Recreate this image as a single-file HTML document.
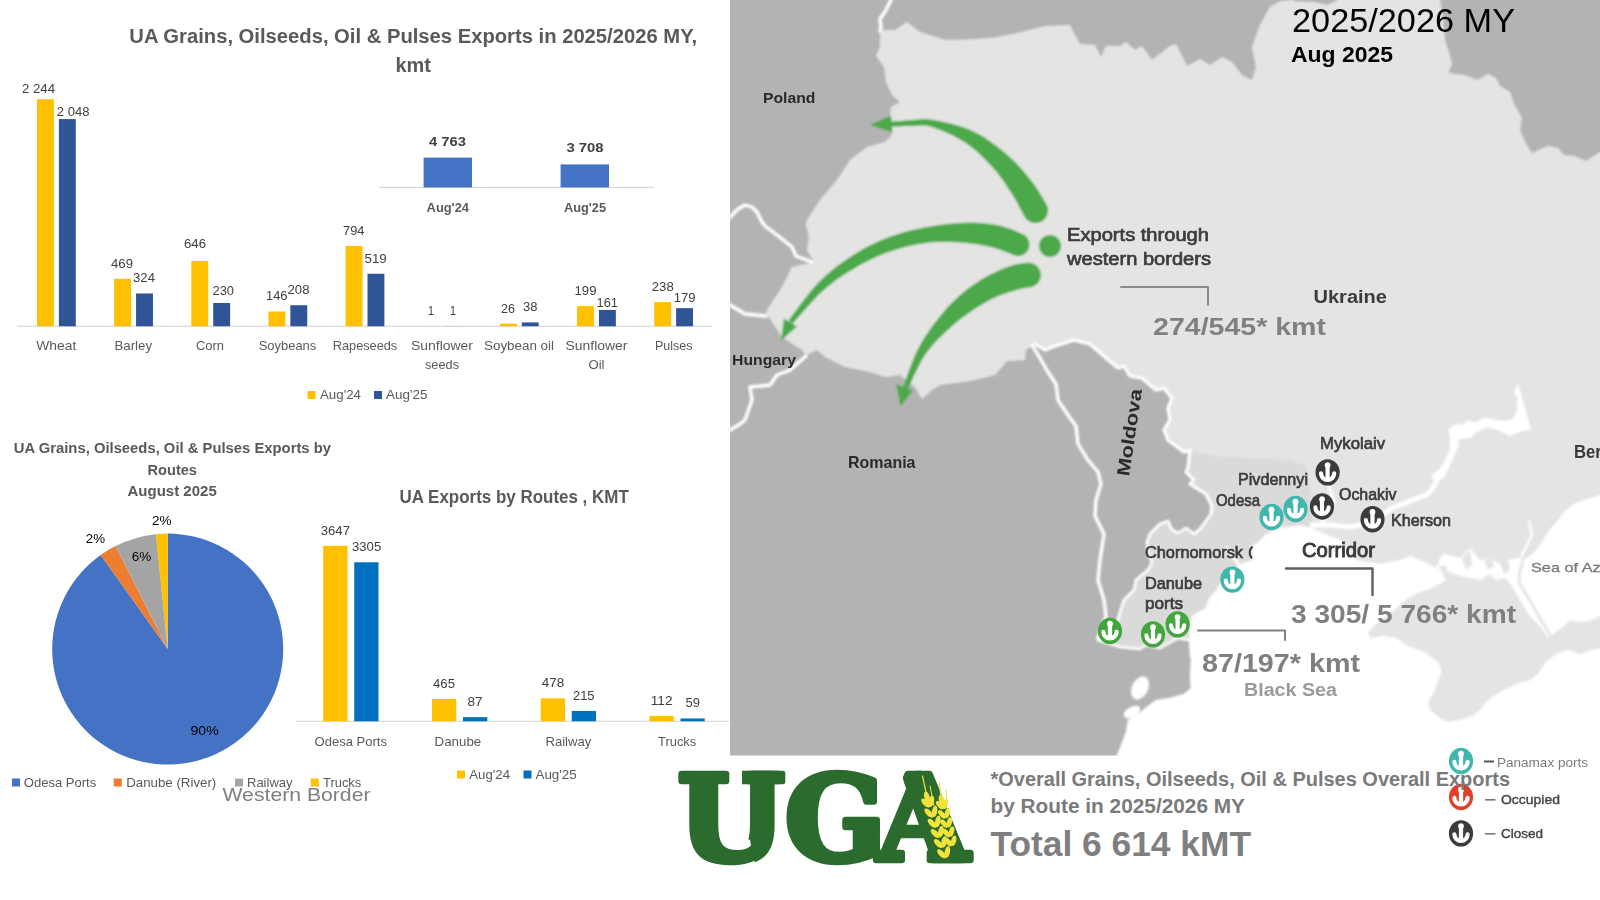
<!DOCTYPE html>
<html lang="en">
<head>
<meta charset="utf-8">
<title>UA Grains, Oilseeds, Oil &amp; Pulses Exports 2025/2026 MY</title>
<style>
html,body{margin:0;padding:0;background:#fff;}
body{width:1600px;height:900px;overflow:hidden;font-family:"Liberation Sans", sans-serif;}
svg{display:block;font-family:"Liberation Sans", sans-serif;}
</style>
</head>
<body>
<svg width="1600" height="900" viewBox="0 0 1600 900">
<defs>
<g id="anchor">
<ellipse rx="12.1" ry="13.2"/>
<path d="M-6.6,0.9 A6.6,6.6 0 0 0 6.6,0.9" fill="none" stroke="#fff" stroke-width="4.2" stroke-linecap="round"/>
<rect x="-2.1" y="-7.4" width="4.2" height="15" fill="#fff"/>
<circle cx="0" cy="-7.3" r="2.9" fill="#fff"/>
</g>
<filter id="mapblur" x="-2%" y="-2%" width="104%" height="104%"><feGaussianBlur stdDeviation="0.9"/></filter>
<filter id="soft" x="-5%" y="-5%" width="110%" height="110%"><feGaussianBlur stdDeviation="0.45"/></filter>
</defs>
<clipPath id="mapclip"><rect x="730" y="0" width="870" height="755.5"/></clipPath>
<g id="map" clip-path="url(#mapclip)" filter="url(#mapblur)">
<rect x="715.00" y="-15.00" width="900.00" height="785.00" fill="#e4e4e3"/>
<polygon points="1190,450 1215,456 1250,458 1290,460 1306,466 1310,490 1314,530 1300,530 1280,532 1266,538 1258,546 1256,562 1240,568 1222,588 1212,602 1200,616 1194,630 1192,644 1178,642 1160,650 1146,648 1140,651 1120,649 1098,642 1098,640 1108,630 1118,620 1120,612 1124,600 1134,590 1136,580 1148,570 1152,562 1148,552 1147,542 1150,534 1160,524 1168,521 1172,530 1178,533 1186,528 1194,534 1200,529 1211,514 1212,506 1206,494 1190,484 1194,480 1186,472 1188,468 1190,450" fill="#dadad9" />
<polygon points="715,-15 1292,-15 1292,0 1280,1 1270,7 1260,25 1252,47 1256,67 1252,80 1242,75 1232,62 1222,57 1210,65 1200,59 1187,66 1176,44 1170,46 1152,60 1142,46 1135,50 1126,42 1120,46 1106,46 1101,57 1095,45 1080,44 1075,35 1070,25 1045,26 1020,32.5 995,37.5 970,39.5 945,40 920,32 907,22 895,30 880,30 880,47 876,56 884,67 886,82 892,95 900,102 891,107 890,116 892,135 885,142 867,147 850,160 837,180 820,200 807,220 806,225 809,237 807,250 814,262 792,267 782,287 767,310 766,313 782,337 802,350 806,355 817,350 825,357 845,367 870,372 885,377 900,375 915,387 922,399 932,390 940,385 970,381 995,375 1007,361 1025,360 1026,350 1035,344 1045,350 1052,347 1074,340 1090,344 1106,358 1118,368 1124,366 1130,376 1142,378 1156,390 1164,388 1172,398 1168,408 1170,420 1164,430 1168,440 1184,452 1190,450 1188,468 1186,472 1194,480 1190,484 1206,494 1212,506 1211,514 1200,529 1194,534 1186,528 1178,533 1172,530 1168,521 1160,524 1150,534 1147,542 1148,552 1152,562 1148,570 1136,580 1134,590 1124,600 1120,612 1118,620 1108,630 1098,640 1120,647 1140,649 1146,645 1160,648 1178,638 1189,640 1190,655 1191,660 1190,680 1191,688 1184,694 1170,698 1156,700 1148,706 1138,714 1128,720 1126,732 1120,748 1117,755.5 1115,770 715,770" fill="#b3b3b3" />
<polygon points="1292,-15 1292,0 1296,1.5 1315,2 1327,5 1338,0 1338,-15" fill="#b3b3b3" />
<polygon points="1440,-15 1440,0 1443,20 1445,40 1449,52 1452,64 1448,73 1464,75 1478,80 1488,74 1496,78 1500,86 1510,92 1514,104 1522,118 1520,130 1526,144 1532,153 1548,146 1558,148 1564,155 1574,156 1586,161 1600,152 1615,150 1615,-15" fill="#b3b3b3" />
<polygon points="1115,770 1117,755.5 1120,748 1126,732 1128,720 1138,714 1148,706 1156,700 1170,698 1184,694 1191,688 1190,680 1191,660 1190,655 1189,640 1190,628 1192,616 1198,612 1206,608 1208,600 1216,590 1220,584 1240,564 1252,560 1252,546 1258,542 1266,534 1280,528 1300,525 1312,528 1325,534 1340,540 1348,550 1356,560 1380,564 1400,560 1410,556 1420,560 1436,568 1440,558 1444,554 1460,558 1470,548 1480,560 1490,558 1500,564 1506,560 1520,558 1522,560 1530,556 1538,548 1548,532 1558,520 1564,512 1574,504 1584,500 1600,495 1615,494 1615,770" fill="#ffffff" />
<ellipse cx="1140" cy="688" rx="8" ry="12" fill="#fff" transform="rotate(25 1140 688)"/>
<ellipse cx="1132" cy="712" rx="9" ry="5" fill="#fff" transform="rotate(-30 1132 712)"/>
<polygon points="1446,580 1438,566 1446,566 1448,572 1460,576 1470,578 1480,580 1490,574 1496,580 1506,578 1512,586 1520,600 1530,616 1540,626 1548,638 1556,632 1564,626 1570,620 1580,622 1592,620 1600,616 1615,614 1615,646 1600,648 1592,650 1580,654 1568,650 1556,654 1546,662 1538,674 1530,680 1516,684 1500,692 1488,700 1480,710 1472,716 1460,720 1448,722 1440,718 1430,710 1428,702 1434,692 1438,680 1442,672 1438,662 1424,652 1408,646 1396,638 1384,636 1370,638 1368,632 1376,624 1392,612 1408,598 1420,592 1432,588" fill="#e4e4e3" />
<polyline points="1523,561 1519.5,572 1519,582 1551,637" fill="none" stroke="#e4e4e3" stroke-width="3" stroke-linejoin="round" stroke-linecap="round" />
<polygon points="1462,558 1466,570 1472,566 1470,550" fill="#e4e4e3" />
<polygon points="1484,560 1488,570 1494,566 1492,558" fill="#e4e4e3" />
<polygon points="1500,562 1504,574 1510,570 1508,560" fill="#e4e4e3" />
<polyline points="1521,557 1532,535 1529,521" fill="none" stroke="#fff" stroke-width="2.4" stroke-linejoin="round" stroke-linecap="round" />
<polygon points="1518,384 1531,429 1519,432 1510,436 1500,431 1489,427.5 1477.5,431 1471,437.5 1457.5,440 1459,446 1444,477.5 1436,482 1431,476 1441,467.5 1450,450 1450,437.5 1448,429 1456,424 1462.5,425 1468,420 1475,422.5 1485,417.5 1495,420 1505,421 1512.5,419 1517,411 1517.5,397.5 1514,392.5" fill="#fff" />
<polyline points="1438,478 1434,486 1428,494 1408,502 1392,508 1384,514 1372,523 1350,527 1330,525 1312,525" fill="none" stroke="#fff" stroke-width="5" stroke-linejoin="round" stroke-linecap="round" />
<polyline points="1322,522 1330,512 1334,500 1330,490 1328,480" fill="none" stroke="#fff" stroke-width="3" stroke-linejoin="round" stroke-linecap="round" />
<polyline points="1240,566 1232,556 1226,548" fill="none" stroke="#fff" stroke-width="3" stroke-linejoin="round" stroke-linecap="round" />
<polyline points="1272,530 1268,520" fill="none" stroke="#fff" stroke-width="2.5" stroke-linejoin="round" stroke-linecap="round" />
<polyline points="893,-5 891,0 886,10 880,19 881,27 880,31" fill="none" stroke="#ffffff" stroke-width="3.3" stroke-linejoin="round" stroke-linecap="round" />
<polyline points="722,225 730,217 738,209 745,205 752,207 757,212 762,222 765,226 777,235 792,247 796,256 812,262" fill="none" stroke="#ffffff" stroke-width="3.3" stroke-linejoin="round" stroke-linecap="round" />
<polyline points="720,299 730,305 745,314 766,316" fill="none" stroke="#ffffff" stroke-width="3.3" stroke-linejoin="round" stroke-linecap="round" />
<polyline points="806,356 790,370 777,375 770,385 750,387 752,400 745,420 740,424 730,430 720,434" fill="none" stroke="#ffffff" stroke-width="3.3" stroke-linejoin="round" stroke-linecap="round" />
<polyline points="1032,345 1040,358 1048,372 1056,384 1058,400 1070,418 1076,426 1078,444 1088,460 1098,472 1101,484 1096,500 1095,516 1104,534 1100,560 1098,580 1104,600 1106,616 1098,638" fill="none" stroke="#ffffff" stroke-width="3.3" stroke-linejoin="round" stroke-linecap="round" />
<polyline points="1035,344 1045,350 1052,347 1074,340 1090,344 1106,358 1118,368 1124,366 1130,376 1142,378 1156,390 1164,388 1172,398 1168,408 1170,420 1164,430 1168,440 1184,452 1190,450 1188,468 1186,472 1194,480 1190,484 1206,494 1212,506 1211,514" fill="none" stroke="#ffffff" stroke-width="3.1" stroke-linejoin="round" stroke-linecap="round" />
<polyline points="1211,514 1200,529 1194,534 1186,528 1178,533 1172,530 1168,521 1160,524 1150,534 1147,542 1148,552 1152,562 1148,570 1136,580 1134,590 1124,600 1120,612 1118,620 1108,630 1098,640" fill="none" stroke="#ffffff" stroke-width="2.6" stroke-linejoin="round" stroke-linecap="round" />
<polyline points="1098,640 1120,647 1140,649 1146,645 1160,648 1178,638 1189,640" fill="none" stroke="#ffffff" stroke-width="2.4" stroke-linejoin="round" stroke-linecap="round" />
<path d="M890.7,126.9 L892.0,126.8 L893.6,126.7 L895.6,126.6 L897.8,126.5 L900.2,126.4 L902.6,126.3 L905.1,126.1 L907.6,126.1 L909.9,126.0 L912.1,126.0 L914.2,126.0 L916.2,125.8 L918.0,125.7 L919.7,125.5 L921.4,125.4 L923.1,125.4 L924.9,125.5 L926.9,125.8 L929.1,126.3 L931.7,127.0 L934.6,128.0 L937.9,129.2 L941.4,130.6 L945.1,132.1 L948.9,133.8 L952.7,135.6 L956.4,137.5 L960.0,139.5 L963.4,141.6 L966.6,143.6 L969.5,145.7 L972.5,148.1 L975.5,150.5 L978.4,153.1 L981.2,155.8 L984.0,158.5 L986.8,161.3 L989.4,164.1 L992.0,166.8 L994.4,169.5 L996.6,172.0 L998.6,174.6 L1000.6,177.2 L1002.6,179.9 L1004.4,182.6 L1006.2,185.2 L1007.9,187.9 L1009.6,190.5 L1011.3,193.1 L1012.8,195.5 L1014.3,197.8 L1015.7,200.2 L1017.0,202.6 L1018.4,205.0 L1019.6,207.4 L1020.8,209.6 L1021.9,211.7 L1022.9,213.7 L1023.8,215.4 L1024.6,216.8 L1026.6,219.4 L1029.2,221.4 L1032.2,222.7 L1035.5,223.1 L1038.8,222.7 L1041.8,221.4 L1044.4,219.4 L1046.4,216.8 L1047.7,213.8 L1048.1,210.5 L1047.7,207.2 L1046.4,204.2 L1045.7,203.0 L1044.8,201.5 L1043.7,199.7 L1042.5,197.5 L1041.0,195.2 L1039.5,192.6 L1037.8,190.0 L1036.0,187.3 L1034.1,184.6 L1032.2,182.0 L1030.2,179.5 L1028.3,177.0 L1026.2,174.5 L1024.0,171.8 L1021.6,169.1 L1019.2,166.4 L1016.6,163.6 L1013.9,160.9 L1011.1,158.2 L1008.1,155.5 L1005.2,153.0 L1002.1,150.4 L998.8,147.8 L995.5,145.2 L992.0,142.7 L988.5,140.2 L984.8,137.8 L981.1,135.5 L977.3,133.4 L973.4,131.4 L969.4,129.6 L965.2,128.0 L961.0,126.6 L956.6,125.3 L952.3,124.1 L948.1,123.1 L944.0,122.1 L940.2,121.3 L936.6,120.6 L933.3,120.0 L930.4,119.5 L927.7,119.2 L925.3,119.1 L923.1,119.1 L921.1,119.2 L919.2,119.3 L917.4,119.5 L915.6,119.7 L913.8,119.9 L911.9,120.0 L909.7,120.1 L907.3,120.3 L904.8,120.5 L902.3,120.7 L899.8,120.9 L897.4,121.1 L895.2,121.3 L893.2,121.5 L891.6,121.6 L890.3,121.7 Z" fill="#4ba94a"/>
<polygon points="870,125 891,115.5 892.5,132.5" fill="#4ba94a" />
<path d="M792.5,323.7 L794.5,321.5 L797.0,318.6 L800.0,315.2 L803.3,311.4 L806.9,307.4 L810.7,303.2 L814.6,299.1 L818.4,295.1 L822.1,291.5 L825.6,288.4 L829.1,285.5 L832.6,282.7 L836.2,280.1 L839.9,277.5 L843.5,275.0 L847.2,272.7 L850.9,270.4 L854.6,268.2 L858.3,266.1 L861.9,264.1 L865.4,262.2 L869.0,260.4 L872.5,258.7 L876.0,257.1 L879.5,255.6 L883.0,254.2 L886.5,252.8 L890.1,251.6 L893.6,250.4 L897.2,249.2 L900.8,248.2 L904.4,247.2 L908.0,246.3 L911.6,245.5 L915.3,244.8 L918.9,244.1 L922.6,243.5 L926.2,243.0 L929.9,242.6 L933.5,242.3 L937.1,242.1 L940.8,241.9 L944.6,241.9 L948.4,242.0 L952.1,242.1 L955.8,242.3 L959.5,242.5 L963.0,242.8 L966.4,243.1 L969.5,243.4 L972.5,243.7 L975.3,244.1 L978.0,244.5 L980.6,244.9 L983.1,245.4 L985.5,245.9 L987.9,246.5 L990.3,247.0 L992.6,247.6 L994.7,248.2 L996.7,248.7 L998.8,249.4 L1000.9,250.1 L1003.1,250.9 L1005.2,251.7 L1007.2,252.6 L1009.1,253.3 L1010.9,254.1 L1012.5,254.7 L1013.8,255.2 L1016.7,255.9 L1019.8,255.9 L1022.6,255.0 L1025.2,253.5 L1027.3,251.3 L1028.7,248.7 L1029.4,245.8 L1029.4,242.7 L1028.5,239.9 L1027.0,237.3 L1024.8,235.2 L1022.2,233.8 L1021.1,233.4 L1019.8,232.8 L1018.0,232.0 L1016.0,231.2 L1013.8,230.3 L1011.3,229.3 L1008.7,228.3 L1006.0,227.4 L1003.1,226.5 L1000.3,225.8 L997.6,225.3 L995.0,224.8 L992.2,224.3 L989.4,223.9 L986.5,223.5 L983.5,223.2 L980.4,222.9 L977.2,222.7 L973.9,222.6 L970.5,222.6 L966.9,222.7 L963.3,222.8 L959.5,223.0 L955.6,223.3 L951.6,223.6 L947.6,224.0 L943.5,224.5 L939.5,225.0 L935.5,225.6 L931.5,226.2 L927.6,226.9 L923.7,227.6 L919.9,228.4 L916.0,229.2 L912.1,230.1 L908.2,231.1 L904.3,232.1 L900.4,233.2 L896.6,234.4 L892.8,235.8 L889.0,237.1 L885.3,238.6 L881.5,240.1 L877.8,241.7 L874.1,243.4 L870.4,245.2 L866.7,247.1 L863.0,249.0 L859.3,251.2 L855.6,253.4 L852.0,255.7 L848.3,258.2 L844.6,260.7 L840.9,263.4 L837.2,266.1 L833.5,269.0 L829.9,272.0 L826.3,275.1 L822.8,278.3 L819.4,281.6 L815.8,285.3 L812.2,289.5 L808.6,293.9 L805.0,298.4 L801.5,302.9 L798.3,307.3 L795.2,311.4 L792.5,315.0 L790.3,318.0 L788.5,320.3 Z" fill="#4ba94a"/>
<polygon points="781,340.5 784,318.5 797,326.5" fill="#4ba94a" />
<path d="M907.9,389.0 L908.9,386.9 L910.2,384.1 L911.7,380.8 L913.4,377.1 L915.2,373.2 L917.2,369.2 L919.2,365.2 L921.2,361.3 L923.2,357.8 L925.2,354.7 L927.1,352.0 L929.1,349.4 L931.1,346.9 L933.2,344.5 L935.3,342.1 L937.5,339.9 L939.7,337.7 L942.0,335.5 L944.3,333.3 L946.6,331.1 L948.9,328.9 L951.3,326.8 L953.8,324.7 L956.2,322.6 L958.7,320.6 L961.2,318.6 L963.7,316.7 L966.2,314.9 L968.7,313.1 L971.1,311.4 L973.5,309.8 L975.9,308.2 L978.3,306.7 L980.8,305.2 L983.2,303.7 L985.7,302.3 L988.1,301.0 L990.5,299.7 L992.9,298.5 L995.2,297.4 L997.5,296.4 L999.8,295.5 L1002.2,294.5 L1004.6,293.7 L1007.0,292.9 L1009.3,292.1 L1011.6,291.4 L1013.8,290.8 L1015.9,290.2 L1017.7,289.6 L1019.3,289.2 L1020.6,288.9 L1022.0,288.6 L1023.3,288.3 L1024.6,288.1 L1025.9,287.9 L1027.1,287.8 L1028.3,287.6 L1029.5,287.4 L1030.5,287.2 L1033.6,286.3 L1036.4,284.6 L1038.6,282.2 L1040.1,279.4 L1040.8,276.2 L1040.7,273.0 L1039.8,269.9 L1038.1,267.1 L1035.7,264.9 L1032.9,263.4 L1029.7,262.7 L1026.5,262.8 L1025.9,262.9 L1025.1,263.0 L1023.9,263.1 L1022.5,263.2 L1020.9,263.5 L1019.0,263.8 L1017.0,264.1 L1014.8,264.6 L1012.5,265.2 L1010.3,266.0 L1008.1,266.8 L1005.8,267.6 L1003.4,268.6 L1000.9,269.6 L998.3,270.7 L995.7,271.9 L993.0,273.2 L990.2,274.6 L987.5,276.1 L984.8,277.6 L982.2,279.1 L979.6,280.7 L977.0,282.4 L974.4,284.1 L971.7,285.9 L969.1,287.8 L966.5,289.8 L964.0,291.8 L961.4,293.9 L958.9,296.1 L956.5,298.3 L954.0,300.7 L951.6,303.1 L949.2,305.6 L946.9,308.1 L944.6,310.7 L942.4,313.4 L940.1,316.1 L938.0,318.7 L935.9,321.4 L933.9,324.1 L931.9,326.7 L930.0,329.4 L928.1,332.2 L926.2,335.0 L924.3,337.8 L922.5,340.8 L920.8,343.8 L919.0,347.0 L917.3,350.3 L915.6,353.9 L913.9,357.8 L912.2,362.0 L910.6,366.3 L909.0,370.6 L907.5,374.7 L906.1,378.5 L904.9,382.0 L903.9,384.8 L903.1,387.0 Z" fill="#4ba94a"/>
<polygon points="900.5,406.5 896,384 913,390.5" fill="#4ba94a" />
<circle cx="1050" cy="246" r="11" fill="#4ba94a"/>
</g>
<g clip-path="url(#mapclip)" filter="url(#soft)">
<g>
<text x="763.00" y="103.00" font-size="15" fill="#2b2b2b" font-weight="bold" textLength="52.50" lengthAdjust="spacingAndGlyphs">Poland</text>
<text x="732.00" y="365.00" font-size="15" fill="#2b2b2b" font-weight="bold" textLength="64.00" lengthAdjust="spacingAndGlyphs">Hungary</text>
<text x="848.00" y="468.00" font-size="16.5" fill="#2b2b2b" font-weight="bold" textLength="67.50" lengthAdjust="spacingAndGlyphs">Romania</text>
<text x="1313.50" y="303.00" font-size="18" fill="#3a3a3a" font-weight="bold" textLength="73.50" lengthAdjust="spacingAndGlyphs">Ukraine</text>
<g transform="translate(1129,476.8) rotate(-81.4)">
<text x="0.00" y="0.00" font-size="18" fill="#2b2b2b" font-weight="bold" textLength="88.00" lengthAdjust="spacingAndGlyphs">Moldova</text>
</g>
<text x="1067.00" y="241.00" font-size="18.5" fill="#3c3c3c" textLength="142.00" lengthAdjust="spacingAndGlyphs" stroke="#3c3c3c" stroke-width="0.7">Exports through</text>
<text x="1067.00" y="265.00" font-size="18.5" fill="#3c3c3c" textLength="144.00" lengthAdjust="spacingAndGlyphs" stroke="#3c3c3c" stroke-width="0.7">western borders</text>
<text x="1320.00" y="449.00" font-size="17" fill="#3c3c3c" textLength="65.00" lengthAdjust="spacingAndGlyphs" stroke="#3c3c3c" stroke-width="0.7">Mykolaiv</text>
<text x="1238.00" y="485.00" font-size="17" fill="#3c3c3c" textLength="70.00" lengthAdjust="spacingAndGlyphs" stroke="#3c3c3c" stroke-width="0.7">Pivdennyi</text>
<text x="1216.00" y="506.00" font-size="17" fill="#3c3c3c" textLength="44.00" lengthAdjust="spacingAndGlyphs" stroke="#3c3c3c" stroke-width="0.7">Odesa</text>
<text x="1339.00" y="500.00" font-size="17" fill="#3c3c3c" textLength="57.50" lengthAdjust="spacingAndGlyphs" stroke="#3c3c3c" stroke-width="0.7">Ochakiv</text>
<text x="1391.00" y="526.00" font-size="17" fill="#3c3c3c" textLength="60.00" lengthAdjust="spacingAndGlyphs" stroke="#3c3c3c" stroke-width="0.7">Kherson</text>
<text x="1145.00" y="558.00" font-size="17" fill="#3c3c3c" textLength="98.00" lengthAdjust="spacingAndGlyphs" stroke="#3c3c3c" stroke-width="0.7">Chornomorsk</text>
<path d="M1252.5,546.5 Q1247,552 1252,558.5" fill="none" stroke="#3c3c3c" stroke-width="2"/>
<text x="1145.00" y="589.00" font-size="17" fill="#3c3c3c" textLength="57.00" lengthAdjust="spacingAndGlyphs" stroke="#3c3c3c" stroke-width="0.7">Danube</text>
<text x="1145.00" y="609.00" font-size="17" fill="#3c3c3c" textLength="38.00" lengthAdjust="spacingAndGlyphs" stroke="#3c3c3c" stroke-width="0.7">ports</text>
<text x="1302.00" y="557.00" font-size="19.5" fill="#3a3a3a" textLength="73.00" lengthAdjust="spacingAndGlyphs" stroke="#3a3a3a" stroke-width="0.9">Corridor</text>
<text x="1574.00" y="458.00" font-size="18" fill="#3a3a3a" font-weight="bold" textLength="38.00" lengthAdjust="spacingAndGlyphs">Berd</text>
<text x="1531.00" y="572.00" font-size="13.5" fill="#7a7a7a" textLength="87.00" lengthAdjust="spacingAndGlyphs" stroke="#7a7a7a" stroke-width="0.3">Sea of Azov</text>
<text x="1244.00" y="696.00" font-size="18" fill="#9a9a9a" font-weight="bold" textLength="93.00" lengthAdjust="spacingAndGlyphs">Black Sea</text>
</g>
<use href="#anchor" x="1271.5" y="517" fill="#3fb6ad"/>
<use href="#anchor" x="1295.5" y="509" fill="#3fb6ad"/>
<use href="#anchor" x="1232.4" y="579.6" fill="#3fb6ad"/>
<use href="#anchor" x="1327.6" y="472.4" fill="#3a3a3a"/>
<use href="#anchor" x="1322" y="506.5" fill="#3a3a3a"/>
<use href="#anchor" x="1372.5" y="519.2" fill="#3a3a3a"/>
<use href="#anchor" x="1110" y="631" fill="#3fa63c"/>
<use href="#anchor" x="1153" y="634.4" fill="#3fa63c"/>
<use href="#anchor" x="1177.6" y="624.4" fill="#3fa63c"/>
</g>
<g id="mapoverlay">
<polyline points="1121,287 1208,287 1208,305" fill="none" stroke="#8a8a8a" stroke-width="2" stroke-linejoin="round" stroke-linecap="round" stroke-linecap="butt" stroke-linejoin="miter"/>
<polyline points="1286,568.5 1372.5,568.5 1372.5,595" fill="none" stroke="#5f5f5f" stroke-width="2.4" stroke-linejoin="round" stroke-linecap="round" stroke-linecap="butt" stroke-linejoin="miter"/>
<polyline points="1198,630.5 1285,630.5 1285,640" fill="none" stroke="#808080" stroke-width="2" stroke-linejoin="round" stroke-linecap="round" stroke-linecap="butt" stroke-linejoin="miter"/>
<text x="1153.00" y="335.00" font-size="24" fill="#808080" font-weight="bold" textLength="173.00" lengthAdjust="spacingAndGlyphs">274/545* kmt</text>
<text x="1291.00" y="623.00" font-size="25" fill="#808080" font-weight="bold" textLength="225.00" lengthAdjust="spacingAndGlyphs">3 305/ 5 766* kmt</text>
<text x="1202.00" y="672.00" font-size="25" fill="#808080" font-weight="bold" textLength="158.00" lengthAdjust="spacingAndGlyphs">87/197* kmt</text>
<text x="1292.00" y="31.50" font-size="34" fill="#000" textLength="223.00" lengthAdjust="spacingAndGlyphs">2025/2026 MY</text>
<text x="1291.00" y="62.00" font-size="22.5" fill="#000" font-weight="bold" textLength="102.00" lengthAdjust="spacingAndGlyphs">Aug 2025</text>
</g>
<g filter="url(#soft)">
<use href="#anchor" x="1461" y="761" fill="#3fb6ad"/>
<use href="#anchor" x="1461" y="797" fill="#e0402a"/>
<use href="#anchor" x="1461" y="833.4" fill="#3a3a3a"/>
<rect x="1484.00" y="760.50" width="10.00" height="2.00" fill="#555"/>
<rect x="1485.00" y="799.00" width="10.50" height="1.60" fill="#777"/>
<rect x="1485.00" y="833.00" width="10.50" height="1.60" fill="#777"/>
<text x="1497.00" y="767.00" font-size="13.5" fill="#7d7d7d" textLength="91.00" lengthAdjust="spacingAndGlyphs">Panamax ports</text>
<text x="1501.00" y="804.00" font-size="13.5" fill="#444" textLength="59.00" lengthAdjust="spacingAndGlyphs" stroke="#444" stroke-width="0.4">Occupied</text>
<text x="1501.00" y="838.00" font-size="13.5" fill="#444" textLength="42.00" lengthAdjust="spacingAndGlyphs" stroke="#444" stroke-width="0.4">Closed</text>
</g>
<text x="990.50" y="785.50" font-size="20" fill="#7a7a7a" font-weight="bold" textLength="519.50" lengthAdjust="spacingAndGlyphs">*Overall Grains, Oilseeds, Oil &amp; Pulses Overall Exports</text>
<text x="990.50" y="812.50" font-size="20" fill="#7a7a7a" font-weight="bold" textLength="254.50" lengthAdjust="spacingAndGlyphs">by Route in 2025/2026 MY</text>
<text x="990.50" y="856.30" font-size="35" fill="#7f7f7f" font-weight="bold" textLength="260.50" lengthAdjust="spacingAndGlyphs">Total 6 614 kMT</text>
<clipPath id="cu"><polygon points="742,765 785.5,765 785.5,868 756,868 750,840 742,836"/></clipPath>
<clipPath id="ca"><polygon points="898,765 985,765 985,870 935,870"/></clipPath>
<text x="677.4 784.8 877.0" y="860.25" font-family='"DejaVu Serif", "Liberation Serif", serif' font-size="118.7" font-weight="bold" fill="#2b6b2e" stroke="#2b6b2e" stroke-width="6.5" stroke-linejoin="round">UGA</text>
<g clip-path="url(#cu)"><text x="671.4" y="860.25" font-family='"DejaVu Serif", "Liberation Serif", serif' font-size="118.7" font-weight="bold" fill="#2b6b2e" stroke="#2b6b2e" stroke-width="6.5" stroke-linejoin="round">U</text><text x="681.4" y="860.25" font-family='"DejaVu Serif", "Liberation Serif", serif' font-size="118.7" font-weight="bold" fill="#2b6b2e" stroke="#2b6b2e" stroke-width="6.5" stroke-linejoin="round">U</text></g>
<g clip-path="url(#ca)"><text x="869.0" y="860.25" font-family='"DejaVu Serif", "Liberation Serif", serif' font-size="118.7" font-weight="bold" fill="#2b6b2e" stroke="#2b6b2e" stroke-width="6.5" stroke-linejoin="round">A</text></g>
<ellipse cx="931.4" cy="801.2" rx="5.8" ry="2.7" fill="#f1e23c" transform="rotate(101 931.4 801.2)"/>
<ellipse cx="925.7" cy="803.0" rx="5.8" ry="2.7" fill="#f1e23c" transform="rotate(45 925.7 803.0)"/>
<ellipse cx="934.6" cy="811.4" rx="5.8" ry="2.7" fill="#f1e23c" transform="rotate(101 934.6 811.4)"/>
<ellipse cx="928.9" cy="813.1" rx="5.8" ry="2.7" fill="#f1e23c" transform="rotate(45 928.9 813.1)"/>
<ellipse cx="937.8" cy="821.5" rx="5.8" ry="2.7" fill="#f1e23c" transform="rotate(101 937.8 821.5)"/>
<ellipse cx="932.1" cy="823.3" rx="5.8" ry="2.7" fill="#f1e23c" transform="rotate(45 932.1 823.3)"/>
<ellipse cx="940.9" cy="831.7" rx="5.8" ry="2.7" fill="#f1e23c" transform="rotate(101 940.9 831.7)"/>
<ellipse cx="935.2" cy="833.5" rx="5.8" ry="2.7" fill="#f1e23c" transform="rotate(45 935.2 833.5)"/>
<ellipse cx="944.1" cy="841.9" rx="5.8" ry="2.7" fill="#f1e23c" transform="rotate(101 944.1 841.9)"/>
<ellipse cx="938.4" cy="843.6" rx="5.8" ry="2.7" fill="#f1e23c" transform="rotate(45 938.4 843.6)"/>
<ellipse cx="947.3" cy="852.0" rx="5.8" ry="2.7" fill="#f1e23c" transform="rotate(101 947.3 852.0)"/>
<ellipse cx="941.6" cy="853.8" rx="5.8" ry="2.7" fill="#f1e23c" transform="rotate(45 941.6 853.8)"/>
<ellipse cx="927.0" cy="797.0" rx="5.8" ry="2.7" fill="#f1e23c" transform="rotate(73 927.0 797.0)"/>
<ellipse cx="945.2" cy="804.0" rx="5.2" ry="2.5" fill="#f1e23c" transform="rotate(105 945.2 804.0)"/>
<ellipse cx="939.9" cy="805.2" rx="5.2" ry="2.5" fill="#f1e23c" transform="rotate(49 939.9 805.2)"/>
<ellipse cx="947.3" cy="813.2" rx="5.2" ry="2.5" fill="#f1e23c" transform="rotate(105 947.3 813.2)"/>
<ellipse cx="942.0" cy="814.4" rx="5.2" ry="2.5" fill="#f1e23c" transform="rotate(49 942.0 814.4)"/>
<ellipse cx="949.4" cy="822.4" rx="5.2" ry="2.5" fill="#f1e23c" transform="rotate(105 949.4 822.4)"/>
<ellipse cx="944.1" cy="823.6" rx="5.2" ry="2.5" fill="#f1e23c" transform="rotate(49 944.1 823.6)"/>
<ellipse cx="951.5" cy="831.6" rx="5.2" ry="2.5" fill="#f1e23c" transform="rotate(105 951.5 831.6)"/>
<ellipse cx="946.2" cy="832.8" rx="5.2" ry="2.5" fill="#f1e23c" transform="rotate(49 946.2 832.8)"/>
<ellipse cx="953.6" cy="840.8" rx="5.2" ry="2.5" fill="#f1e23c" transform="rotate(105 953.6 840.8)"/>
<ellipse cx="948.3" cy="842.0" rx="5.2" ry="2.5" fill="#f1e23c" transform="rotate(49 948.3 842.0)"/>
<ellipse cx="941.5" cy="800.0" rx="5.2" ry="2.5" fill="#f1e23c" transform="rotate(77 941.5 800.0)"/>
<polyline points="922.5,776 927,797" fill="none" stroke="#f1e23c" stroke-width="1.2" stroke-linejoin="round" stroke-linecap="round" />
<polyline points="930,786 934,806" fill="none" stroke="#f1e23c" stroke-width="1.0" stroke-linejoin="round" stroke-linecap="round" />
<polyline points="939,782 941.5,800" fill="none" stroke="#f1e23c" stroke-width="1.1" stroke-linejoin="round" stroke-linecap="round" />
<polyline points="946,790 947,806" fill="none" stroke="#f1e23c" stroke-width="1.0" stroke-linejoin="round" stroke-linecap="round" />
<text x="129.30" y="43.00" font-size="20" fill="#595959" font-weight="bold" textLength="567.70" lengthAdjust="spacingAndGlyphs">UA Grains, Oilseeds, Oil &amp; Pulses Exports in 2025/2026 MY,</text>
<text x="395.50" y="72.00" font-size="20" fill="#595959" font-weight="bold" textLength="35.50" lengthAdjust="spacingAndGlyphs">kmt</text>
<rect x="17.00" y="325.65" width="695.00" height="1.20" fill="#d9d9d9"/>
<rect x="37.00" y="99.25" width="16.90" height="227.00" fill="#ffc000"/>
<rect x="58.90" y="119.08" width="16.90" height="207.17" fill="#2f5597"/>
<rect x="114.15" y="278.81" width="16.90" height="47.44" fill="#ffc000"/>
<rect x="136.05" y="293.47" width="16.90" height="32.78" fill="#2f5597"/>
<rect x="191.30" y="260.90" width="16.90" height="65.35" fill="#ffc000"/>
<rect x="213.20" y="302.98" width="16.90" height="23.27" fill="#2f5597"/>
<rect x="268.45" y="311.48" width="16.90" height="14.77" fill="#ffc000"/>
<rect x="290.35" y="305.21" width="16.90" height="21.04" fill="#2f5597"/>
<rect x="345.60" y="245.93" width="16.90" height="80.32" fill="#ffc000"/>
<rect x="367.50" y="273.75" width="16.90" height="52.50" fill="#2f5597"/>
<rect x="422.75" y="326.15" width="16.90" height="0.10" fill="#ffc000"/>
<rect x="444.65" y="326.15" width="16.90" height="0.10" fill="#2f5597"/>
<rect x="499.90" y="323.62" width="16.90" height="2.63" fill="#ffc000"/>
<rect x="521.80" y="322.41" width="16.90" height="3.84" fill="#2f5597"/>
<rect x="577.05" y="306.12" width="16.90" height="20.13" fill="#ffc000"/>
<rect x="598.95" y="309.96" width="16.90" height="16.29" fill="#2f5597"/>
<rect x="654.20" y="302.17" width="16.90" height="24.08" fill="#ffc000"/>
<rect x="676.10" y="308.14" width="16.90" height="18.11" fill="#2f5597"/>
<text x="22.00" y="92.50" font-size="12.4" fill="#404040" textLength="33.00" lengthAdjust="spacingAndGlyphs">2 244</text>
<text x="56.75" y="115.75" font-size="12.4" fill="#404040" textLength="32.75" lengthAdjust="spacingAndGlyphs">2 048</text>
<text x="111.00" y="267.50" font-size="12.4" fill="#404040" textLength="22.00" lengthAdjust="spacingAndGlyphs">469</text>
<text x="133.00" y="282.00" font-size="12.4" fill="#404040" textLength="22.00" lengthAdjust="spacingAndGlyphs">324</text>
<text x="184.00" y="248.00" font-size="12.4" fill="#404040" textLength="22.00" lengthAdjust="spacingAndGlyphs">646</text>
<text x="212.50" y="295.00" font-size="12.4" fill="#404040" textLength="21.50" lengthAdjust="spacingAndGlyphs">230</text>
<text x="266.00" y="300.00" font-size="12.4" fill="#404040" textLength="21.50" lengthAdjust="spacingAndGlyphs">146</text>
<text x="287.50" y="293.75" font-size="12.4" fill="#404040" textLength="22.00" lengthAdjust="spacingAndGlyphs">208</text>
<text x="343.00" y="234.50" font-size="12.4" fill="#404040" textLength="21.50" lengthAdjust="spacingAndGlyphs">794</text>
<text x="364.50" y="262.50" font-size="12.4" fill="#404040" textLength="22.25" lengthAdjust="spacingAndGlyphs">519</text>
<text x="428.00" y="315.00" font-size="12.4" fill="#404040" textLength="6.00" lengthAdjust="spacingAndGlyphs">1</text>
<text x="450.00" y="315.00" font-size="12.4" fill="#404040" textLength="6.00" lengthAdjust="spacingAndGlyphs">1</text>
<text x="501.00" y="312.50" font-size="12.4" fill="#404040" textLength="14.00" lengthAdjust="spacingAndGlyphs">26</text>
<text x="523.00" y="311.00" font-size="12.4" fill="#404040" textLength="14.50" lengthAdjust="spacingAndGlyphs">38</text>
<text x="574.50" y="295.00" font-size="12.4" fill="#404040" textLength="22.00" lengthAdjust="spacingAndGlyphs">199</text>
<text x="596.50" y="307.00" font-size="12.4" fill="#404040" textLength="21.50" lengthAdjust="spacingAndGlyphs">161</text>
<text x="651.75" y="291.00" font-size="12.4" fill="#404040" textLength="22.00" lengthAdjust="spacingAndGlyphs">238</text>
<text x="673.75" y="301.75" font-size="12.4" fill="#404040" textLength="21.75" lengthAdjust="spacingAndGlyphs">179</text>
<text x="36.25" y="350.00" font-size="12.6" fill="#595959" textLength="40.00" lengthAdjust="spacingAndGlyphs">Wheat</text>
<text x="114.50" y="350.00" font-size="12.6" fill="#595959" textLength="37.50" lengthAdjust="spacingAndGlyphs">Barley</text>
<text x="196.00" y="350.00" font-size="12.6" fill="#595959" textLength="28.00" lengthAdjust="spacingAndGlyphs">Corn</text>
<text x="258.75" y="350.00" font-size="12.6" fill="#595959" textLength="57.50" lengthAdjust="spacingAndGlyphs">Soybeans</text>
<text x="332.75" y="350.00" font-size="12.6" fill="#595959" textLength="64.50" lengthAdjust="spacingAndGlyphs">Rapeseeds</text>
<text x="411.00" y="350.00" font-size="12.6" fill="#595959" textLength="62.00" lengthAdjust="spacingAndGlyphs">Sunflower</text>
<text x="425.00" y="368.75" font-size="12.6" fill="#595959" textLength="34.00" lengthAdjust="spacingAndGlyphs">seeds</text>
<text x="484.00" y="350.00" font-size="12.6" fill="#595959" textLength="70.00" lengthAdjust="spacingAndGlyphs">Soybean oil</text>
<text x="565.50" y="350.00" font-size="12.6" fill="#595959" textLength="62.00" lengthAdjust="spacingAndGlyphs">Sunflower</text>
<text x="588.50" y="368.75" font-size="12.6" fill="#595959" textLength="16.00" lengthAdjust="spacingAndGlyphs">Oil</text>
<text x="655.00" y="350.00" font-size="12.6" fill="#595959" textLength="37.50" lengthAdjust="spacingAndGlyphs">Pulses</text>
<rect x="307.50" y="391.00" width="8.00" height="8.00" fill="#ffc000"/>
<text x="320.00" y="399.00" font-size="12.6" fill="#595959" textLength="41.00" lengthAdjust="spacingAndGlyphs">Aug'24</text>
<rect x="374.00" y="391.00" width="8.00" height="8.00" fill="#2f5597"/>
<text x="386.00" y="399.00" font-size="12.6" fill="#595959" textLength="41.50" lengthAdjust="spacingAndGlyphs">Aug'25</text>
<rect x="379.00" y="186.80" width="275.00" height="1.20" fill="#d9d9d9"/>
<rect x="423.60" y="157.60" width="48.40" height="29.80" fill="#4472c4"/>
<rect x="560.60" y="164.40" width="48.40" height="23.00" fill="#4472c4"/>
<text x="429.00" y="145.60" font-size="13.4" fill="#404040" font-weight="bold" textLength="37.00" lengthAdjust="spacingAndGlyphs">4 763</text>
<text x="566.40" y="152.40" font-size="13.4" fill="#404040" font-weight="bold" textLength="37.20" lengthAdjust="spacingAndGlyphs">3 708</text>
<text x="426.60" y="211.60" font-size="13" fill="#595959" font-weight="bold" textLength="42.40" lengthAdjust="spacingAndGlyphs">Aug'24</text>
<text x="564.00" y="211.60" font-size="13" fill="#595959" font-weight="bold" textLength="42.00" lengthAdjust="spacingAndGlyphs">Aug'25</text>
<text x="13.75" y="453.00" font-size="14.3" fill="#595959" font-weight="bold" textLength="317.25" lengthAdjust="spacingAndGlyphs">UA Grains, Oilseeds, Oil &amp; Pulses Exports by</text>
<text x="147.50" y="474.50" font-size="14.3" fill="#595959" font-weight="bold" textLength="49.50" lengthAdjust="spacingAndGlyphs">Routes</text>
<text x="127.50" y="495.50" font-size="14.3" fill="#595959" font-weight="bold" textLength="89.25" lengthAdjust="spacingAndGlyphs">August 2025</text>
<path d="M167.7,649.1 L167.70,533.60 A115.5,115.5 0 1 1 100.71,555.01 Z" fill="#4472c4"/>
<path d="M167.7,649.1 L100.71,555.01 A115.5,115.5 0 0 1 115.43,546.10 Z" fill="#ed7d31"/>
<path d="M167.7,649.1 L115.43,546.10 A115.5,115.5 0 0 1 156.04,534.19 Z" fill="#a5a5a5"/>
<path d="M167.7,649.1 L156.04,534.19 A115.5,115.5 0 0 1 167.70,533.60 Z" fill="#ffc000"/>
<text x="152.00" y="525.00" font-size="13.2" fill="#000" textLength="19.50" lengthAdjust="spacingAndGlyphs">2%</text>
<text x="85.75" y="542.50" font-size="13.2" fill="#000" textLength="19.25" lengthAdjust="spacingAndGlyphs">2%</text>
<text x="131.75" y="561.25" font-size="13.2" fill="#000" textLength="19.50" lengthAdjust="spacingAndGlyphs">6%</text>
<text x="190.50" y="735.00" font-size="13.2" fill="#000" textLength="28.25" lengthAdjust="spacingAndGlyphs">90%</text>
<rect x="12.00" y="778.50" width="8.00" height="8.00" fill="#4472c4"/>
<text x="23.75" y="786.75" font-size="12.6" fill="#595959" textLength="72.50" lengthAdjust="spacingAndGlyphs">Odesa Ports</text>
<rect x="113.75" y="778.50" width="8.00" height="8.00" fill="#ed7d31"/>
<text x="126.25" y="786.75" font-size="12.6" fill="#595959" textLength="90.00" lengthAdjust="spacingAndGlyphs">Danube (River)</text>
<rect x="235.00" y="778.50" width="8.00" height="8.00" fill="#a5a5a5"/>
<text x="247.00" y="786.75" font-size="12.6" fill="#595959" textLength="45.50" lengthAdjust="spacingAndGlyphs">Railway</text>
<rect x="310.75" y="778.50" width="8.00" height="8.00" fill="#ffc000"/>
<text x="323.00" y="786.75" font-size="12.6" fill="#595959" textLength="38.25" lengthAdjust="spacingAndGlyphs">Trucks</text>
<text x="222.50" y="800.75" font-size="18.5" fill="#7f7f7f" textLength="148.00" lengthAdjust="spacingAndGlyphs">Western Border</text>
<text x="399.50" y="502.50" font-size="18.2" fill="#595959" font-weight="bold" textLength="229.25" lengthAdjust="spacingAndGlyphs">UA Exports by Routes , KMT</text>
<rect x="296.00" y="720.70" width="433.00" height="1.20" fill="#d9d9d9"/>
<rect x="323.25" y="545.80" width="24.25" height="175.50" fill="#ffc000"/>
<rect x="354.25" y="562.26" width="24.25" height="159.04" fill="#0070c0"/>
<rect x="432.00" y="698.92" width="24.25" height="22.38" fill="#ffc000"/>
<rect x="463.00" y="717.11" width="24.25" height="4.19" fill="#0070c0"/>
<rect x="540.75" y="698.30" width="24.25" height="23.00" fill="#ffc000"/>
<rect x="571.75" y="710.95" width="24.25" height="10.35" fill="#0070c0"/>
<rect x="649.50" y="715.91" width="24.25" height="5.39" fill="#ffc000"/>
<rect x="680.50" y="718.46" width="24.25" height="2.84" fill="#0070c0"/>
<text x="320.75" y="534.50" font-size="12.4" fill="#404040" textLength="29.25" lengthAdjust="spacingAndGlyphs">3647</text>
<text x="352.00" y="550.75" font-size="12.4" fill="#404040" textLength="29.25" lengthAdjust="spacingAndGlyphs">3305</text>
<text x="433.00" y="687.50" font-size="12.4" fill="#404040" textLength="22.00" lengthAdjust="spacingAndGlyphs">465</text>
<text x="467.50" y="706.25" font-size="12.4" fill="#404040" textLength="15.00" lengthAdjust="spacingAndGlyphs">87</text>
<text x="541.75" y="687.00" font-size="12.4" fill="#404040" textLength="22.50" lengthAdjust="spacingAndGlyphs">478</text>
<text x="573.00" y="700.00" font-size="12.4" fill="#404040" textLength="21.50" lengthAdjust="spacingAndGlyphs">215</text>
<text x="650.75" y="705.00" font-size="12.4" fill="#404040" textLength="21.75" lengthAdjust="spacingAndGlyphs">112</text>
<text x="685.50" y="707.00" font-size="12.4" fill="#404040" textLength="14.50" lengthAdjust="spacingAndGlyphs">59</text>
<text x="314.50" y="745.60" font-size="12.6" fill="#595959" textLength="72.50" lengthAdjust="spacingAndGlyphs">Odesa Ports</text>
<text x="434.50" y="745.60" font-size="12.6" fill="#595959" textLength="46.75" lengthAdjust="spacingAndGlyphs">Danube</text>
<text x="545.50" y="745.60" font-size="12.6" fill="#595959" textLength="45.75" lengthAdjust="spacingAndGlyphs">Railway</text>
<text x="658.00" y="745.60" font-size="12.6" fill="#595959" textLength="38.25" lengthAdjust="spacingAndGlyphs">Trucks</text>
<rect x="457.00" y="770.50" width="8.00" height="8.00" fill="#ffc000"/>
<text x="469.25" y="778.75" font-size="12.6" fill="#595959" textLength="40.75" lengthAdjust="spacingAndGlyphs">Aug'24</text>
<rect x="523.50" y="770.50" width="8.00" height="8.00" fill="#0070c0"/>
<text x="535.50" y="778.75" font-size="12.6" fill="#595959" textLength="41.25" lengthAdjust="spacingAndGlyphs">Aug'25</text>
</svg>
</body>
</html>
